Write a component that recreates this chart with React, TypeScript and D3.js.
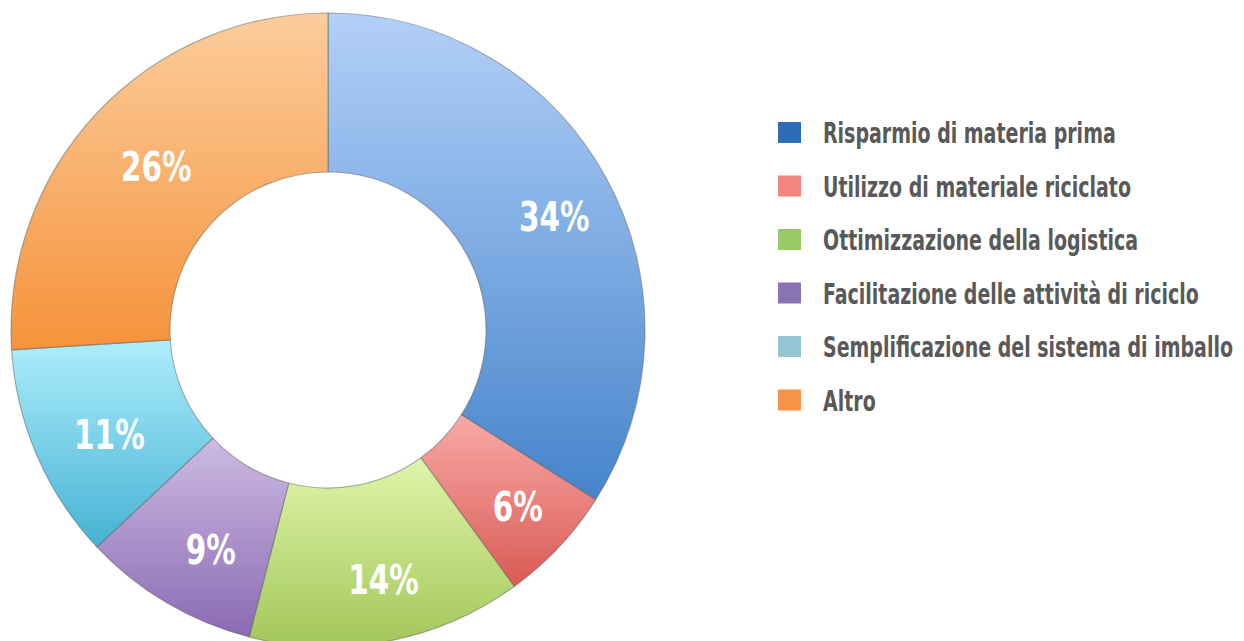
import { useEffect, useRef } from "react";
import * as d3 from "d3";

const categories = [
  "Risparmio di materia prima",
  "Utilizzo di materiale riciclato",
  "Ottimizzazione della logistica",
  "Facilitazione delle attività di riciclo",
  "Semplificazione del sistema di imballo",
  "Altro",
];
const values = [34, 6, 14, 9, 11, 26];
const legendColors = ["#2d6cb6", "#f4847f", "#98cb66", "#8b74b5", "#93c5d3", "#f79346"];
const gradTop = ["#b2d0f8", "#f9aaa6", "#e0f5aa", "#cdbbe2", "#aeeefc", "#fbcd9c"];
const gradBottom = ["#4684cb", "#d95a55", "#a2c75a", "#8a6ab4", "#45b2d3", "#f6923a"];

const W = 1244;
const H = 641;
const FONT = "'Liberation Sans Narrow', 'DejaVu Sans Condensed', sans-serif";

const App = () => {
  const svgRef = useRef<SVGSVGElement>(null);

  useEffect(() => {
    const svg = d3.select(svgRef.current);
    svg.selectAll("*").remove();

    const cx = 328;
    const cy = 330;
    const outer = 317;
    const inner = 158;

    const defs = svg.append("defs");
    values.forEach((_, i) => {
      const g = defs
        .append("linearGradient")
        .attr("id", `grad${i}`)
        .attr("x1", 0)
        .attr("y1", 0)
        .attr("x2", 0)
        .attr("y2", 1);
      g.append("stop").attr("offset", "0%").attr("stop-color", gradTop[i]);
      g.append("stop").attr("offset", "100%").attr("stop-color", gradBottom[i]);
    });

    const pie = d3.pie<number>().sort(null).value((d) => d);
    const arcs = pie(values);
    const arc = d3.arc<d3.PieArcDatum<number>>().innerRadius(inner).outerRadius(outer);
    const labelArc = d3.arc<d3.PieArcDatum<number>>().innerRadius(248).outerRadius(248);

    const g = svg.append("g").attr("transform", `translate(${cx},${cy})`);

    g.selectAll("path")
      .data(arcs)
      .enter()
      .append("path")
      .attr("d", arc)
      .attr("fill", (d, i) => `url(#grad${i})`)
      .attr("stroke", "rgba(90,90,90,0.45)")
      .attr("stroke-width", 1.2);

    // labels sit a little right/below the centroid, as in the original
    g.selectAll("text.lbl")
      .data(arcs)
      .enter()
      .append("text")
      .attr("class", "lbl")
      .attr("transform", (d) => {
        const [x, y] = labelArc.centroid(d);
        return `translate(${x + 9},${y + 6}) scale(0.8,1)`;
      })
      .attr("text-anchor", "middle")
      .attr("dy", "0.36em")
      .attr("fill", "#ffffff")
      .style("font-family", FONT)
      .style("font-weight", "bold")
      .style("font-size", "41px")
      .text((d) => `${d.data}%`);

    // legend
    const legend = svg.append("g").attr("transform", "translate(778,122)");
    const rowH = 53.5;
    const rows = legend
      .selectAll("g.row")
      .data(categories)
      .enter()
      .append("g")
      .attr("class", "row")
      .attr("transform", (d, i) => `translate(0,${i * rowH})`);

    rows
      .append("rect")
      .attr("width", 23)
      .attr("height", 21)
      .attr("fill", (d, i) => legendColors[i]);

    const texts = rows
      .append("text")
      .attr("x", 0)
      .attr("y", 21)
      .attr("fill", "#595959")
      .style("font-family", FONT)
      .style("font-weight", "bold")
      .style("font-size", "29px")
      .text((d) => d);

    // fit the longest entry into the legend width
    let maxW = 0;
    texts.each(function () {
      maxW = Math.max(maxW, (this as SVGTextElement).getComputedTextLength());
    });
    const sx = maxW > 0 ? 410 / maxW : 1;
    texts.attr("transform", `translate(45,0) scale(${sx},1)`);
  }, []);

  return (
    <div style={{ width: W, height: H }}>
      <svg ref={svgRef} width={W} height={H} style={{ position: "absolute", left: 0, top: 0 }}></svg>
    </div>
  );
};

export default App;
